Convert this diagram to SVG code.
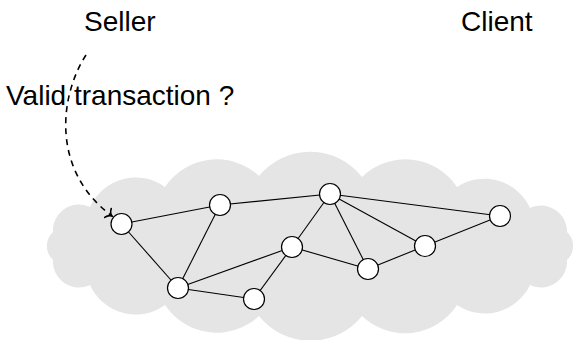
<svg xmlns="http://www.w3.org/2000/svg" width="575" height="340" viewBox="0 0 575 340">
<style>
.lbl{font-family:"Liberation Sans",Arial,Helvetica,sans-serif;font-size:28px;fill:#000}
.edge{stroke:#000;stroke-width:1.1;fill:none}
.node circle{fill:#fff;stroke:#000;stroke-width:1.2}
.dash{stroke:#000;stroke-width:1.6;fill:none;stroke-dasharray:6 5}
</style>
<defs>
<marker id="tip" markerUnits="userSpaceOnUse" markerWidth="14" markerHeight="14" viewBox="-7 -7 14 14" refX="0" refY="0" orient="auto">
<path d="M-5,-5.5 C-4,-2 -1.5,-0.5 0,0 C-1.5,0.5 -4,2 -5,5.5" fill="none" stroke="#000" stroke-width="1.6" stroke-linecap="round"/>
</marker>
</defs>
<rect width="575" height="340" fill="#fff"/>
<g id="cloud">
<path fill="#e5e5e5" d="M53 232 A26 26 0 0 1 90 207 A50 50 0 0 1 165 187 A62 62 0 0 1 259 176 A66 66 0 0 1 362 177 A62 62 0 0 1 457 187 A50 50 0 0 1 530 208 A26 26 0 0 1 567 232 A19 19 0 0 1 567 260 A26 26 0 0 1 530 285 A50 50 0 0 1 457 305 A62 62 0 0 1 362 316 A66 66 0 0 1 259 316 A62 62 0 0 1 165 305 A50 50 0 0 1 90 285 A26 26 0 0 1 53 260 A19 19 0 0 1 53 232 Z"/>
</g>
<g id="connectors">
<line class="edge" x1="121.5" y1="224" x2="220" y2="205"/>
<line class="edge" x1="220" y1="205" x2="330" y2="194"/>
<line class="edge" x1="330" y1="194" x2="500" y2="216"/>
<line class="edge" x1="121.5" y1="224" x2="178" y2="288"/>
<line class="edge" x1="220" y1="205" x2="178" y2="288"/>
<line class="edge" x1="178" y1="288" x2="292" y2="247"/>
<line class="edge" x1="178" y1="288" x2="254" y2="299"/>
<line class="edge" x1="254" y1="299" x2="292" y2="247"/>
<line class="edge" x1="292" y1="247" x2="330" y2="194"/>
<line class="edge" x1="292" y1="247" x2="368" y2="269"/>
<line class="edge" x1="330" y1="194" x2="368" y2="269"/>
<line class="edge" x1="330" y1="194" x2="425" y2="246"/>
<line class="edge" x1="368" y1="269" x2="425" y2="246"/>
<line class="edge" x1="425" y1="246" x2="500" y2="216"/>
<path id="validation-arrow" class="dash" d="M86 55 C60 95 50 170 112 216" marker-end="url(#tip)"/>
</g>
<g id="n1" class="node"><circle cx="121.5" cy="224" r="10.5"/></g>
<g id="n2" class="node"><circle cx="220" cy="205" r="10.5"/></g>
<g id="n3" class="node"><circle cx="330" cy="194" r="10.5"/></g>
<g id="n4" class="node"><circle cx="500" cy="216" r="10.5"/></g>
<g id="n5" class="node"><circle cx="292" cy="247" r="10.5"/></g>
<g id="n6" class="node"><circle cx="425" cy="246" r="10.5"/></g>
<g id="n7" class="node"><circle cx="368" cy="269" r="10.5"/></g>
<g id="n8" class="node"><circle cx="178" cy="288" r="10.5"/></g>
<g id="n9" class="node"><circle cx="254" cy="299" r="10.5"/></g>
<g id="seller"><text class="lbl" x="84" y="31">Seller</text></g>
<g id="client"><text class="lbl" x="461" y="31">Client</text></g>
<g id="question"><text class="lbl" x="6" y="105">Valid transaction ?</text></g>
</svg>
